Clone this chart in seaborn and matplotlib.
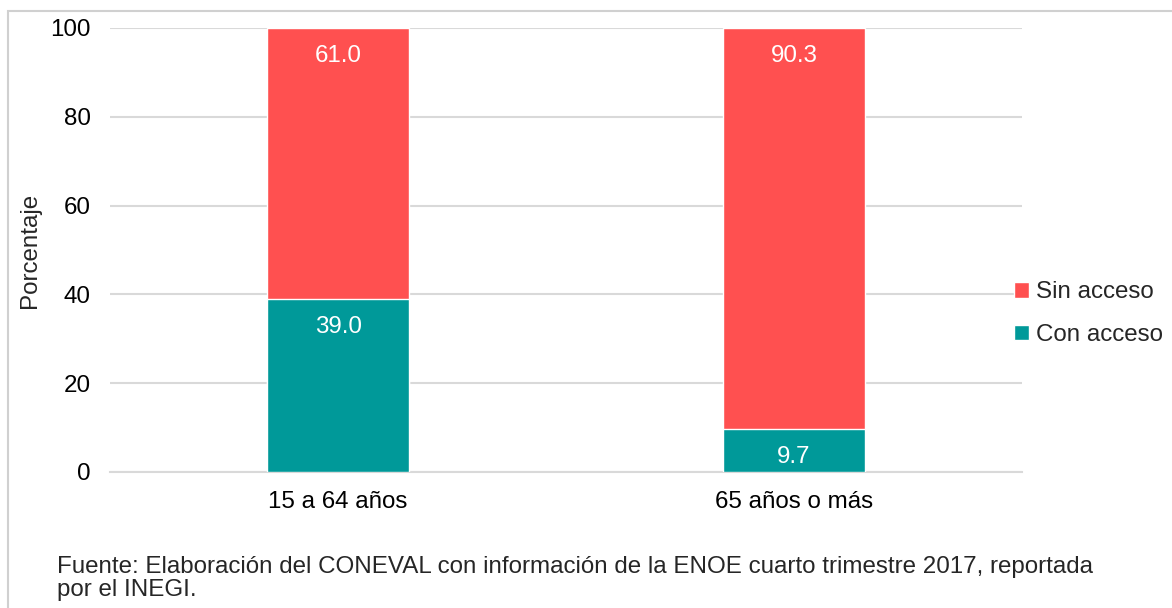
import matplotlib
matplotlib.use("Agg")
import matplotlib.pyplot as plt
import seaborn as sns
import pandas as pd
from matplotlib.patches import Rectangle, Patch

# data
grupos = ["15 a 64 años", "65 años o más"]
con_acceso = [39.0, 9.7]
sin_acceso = [61.0, 90.3]
y_ticks = [0, 20, 40, 60, 80, 100]

col_sin = "#FF5050"
col_con = "#009999"
fs = 17.4

sns.set_style("white")
plt.rcParams["font.family"] = ["Liberation Sans", "DejaVu Sans"]

df = pd.DataFrame({"grupo": grupos, "con": con_acceso, "sin": sin_acceso})
df["total"] = df["con"] + df["sin"]

fig = plt.figure(figsize=(11.72, 6.08), dpi=100)
ax = fig.add_axes([0.0939, 0.2237, 0.7781, 0.7303])

# stacked: full bar in red, teal drawn over the lower part
sns.barplot(data=df, x="grupo", y="total", color=col_sin, width=0.31,
            saturation=1, ax=ax, zorder=2)
sns.barplot(data=df, x="grupo", y="con", color=col_con, width=0.31,
            saturation=1, ax=ax, zorder=3)

# labels at the inside end of each segment
for i, row in df.iterrows():
    ax.annotate(f"{row['sin']:.1f}", (i, row["total"]), xytext=(0, -20.5),
                textcoords="offset points", ha="center", va="center",
                color="white", fontsize=fs, zorder=4)
    ax.annotate(f"{row['con']:.1f}", (i, row["con"]), xytext=(0, -20.5),
                textcoords="offset points", ha="center", va="center",
                color="white", fontsize=fs, zorder=4)

ax.set_ylim(0, 100)
ax.set_xlim(-0.5, 1.5)
ax.set_yticks(y_ticks)
ax.yaxis.grid(True, color="#D9D9D9", linewidth=1.5, zorder=0)
ax.set_axisbelow(True)
for s in ["top", "right", "left"]:
    ax.spines[s].set_visible(False)
ax.spines["bottom"].set_color("#D9D9D9")
ax.spines["bottom"].set_linewidth(1.5)
ax.tick_params(axis="both", length=0, labelsize=fs, colors="black")
ax.tick_params(axis="y", pad=14)
ax.tick_params(axis="x", pad=14)
ax.set_xlabel("")
ax.set_ylabel("Porcentaje", fontsize=fs, labelpad=7)

handles = [Patch(facecolor=col_sin, label="Sin acceso"),
           Patch(facecolor=col_con, label="Con acceso")]
fig.legend(handles=handles, loc="center left", bbox_to_anchor=(0.857, 0.484),
           frameon=False, fontsize=fs, handlelength=0.6, handleheight=0.6,
           handletextpad=0.3, labelspacing=0.85, borderaxespad=0)

fig.text(0.0486, 0.049, "Fuente: Elaboración del CONEVAL con información de la ENOE cuarto trimestre 2017, reportada\npor el INEGI.",
         fontsize=fs, ha="left", va="center", linespacing=1.05)

# light outer frame (top and left edges visible)
fig.patches.append(Rectangle((8 / 1172, -0.1), 1.2, 1.1 - 11 / 608,
                             transform=fig.transFigure, fill=False,
                             edgecolor="#D0D0D0", linewidth=1.5))

fig.savefig("out.png", dpi=100)
